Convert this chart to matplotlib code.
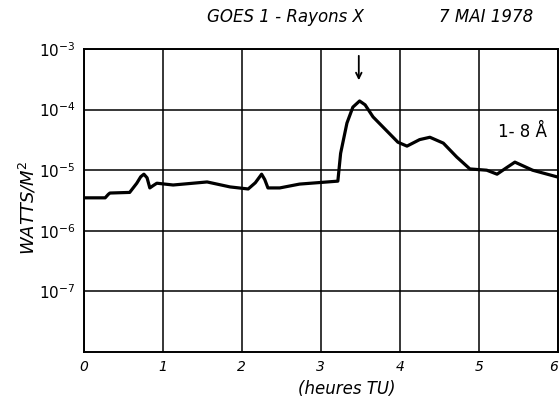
import numpy as np
from matplotlib import pyplot as plt

# hours (TU) and flux (W/m^2)
hours = [0.0, 0.27, 0.31, 0.33, 0.58, 0.67, 0.72, 0.76, 0.80, 0.835, 0.88, 0.924,
         1.13, 1.56, 1.85, 2.08, 2.17, 2.25, 2.29, 2.33, 2.48, 2.73, 3.215,
         3.25, 3.33, 3.405, 3.49, 3.56, 3.66, 3.975, 4.09, 4.25, 4.38, 4.55,
         4.72, 4.886, 5.10, 5.23, 5.35, 5.456, 5.68, 6.0]
flux = [3.5e-6, 3.5e-6, 4.0e-6, 4.2e-6, 4.3e-6, 6.1e-6, 7.8e-6, 8.6e-6, 7.5e-6, 5.1e-6,
        5.6e-6, 6.1e-6, 5.7e-6, 6.4e-6, 5.3e-6, 4.9e-6, 6.2e-6, 8.6e-6, 7.0e-6,
        5.1e-6, 5.1e-6, 5.9e-6, 6.6e-6, 1.9e-5, 6.0e-5, 1.1e-4, 1.39e-4, 1.2e-4,
        7.6e-5, 2.9e-5, 2.5e-5, 3.2e-5, 3.5e-5, 2.8e-5, 1.65e-5, 1.05e-5, 1.0e-5,
        8.6e-6, 1.1e-5, 1.36e-5, 1.0e-5, 7.7e-6]

xticks = [0, 1, 2, 3, 4, 5, 6]
ydecades = [1e-7, 1e-6, 1e-5, 1e-4, 1e-3]
ylabels = [r'$10^{-7}$', r'$10^{-6}$', r'$10^{-5}$', r'$10^{-4}$', r'$10^{-3}$']

fig = plt.figure(figsize=(5.59, 3.99), dpi=100)
ax = fig.add_axes([0.150, 0.118, 0.848, 0.759])

ax.plot(hours, flux, 'k-', lw=2.3, solid_capstyle='round', solid_joinstyle='round')

ax.set_yscale('log')
ax.set_xlim(0, 6)
ax.set_ylim(1e-8, 1e-3)
ax.set_xticks(xticks)
ax.set_xticklabels([str(t) for t in xticks], fontsize=10, style='italic')
ax.get_xticklabels()[-1].set_ha('right')
ax.set_yticks(ydecades)
ax.set_yticklabels(ylabels, fontsize=11)
ax.minorticks_off()
ax.tick_params(axis='x', length=0, pad=6)
ax.tick_params(axis='y', length=0, pad=6)
ax.grid(True, color='black', lw=1.1)
for s in ax.spines.values():
    s.set_linewidth(1.4)

fig.text(0.05, 0.48, r'WATTS/M$^2$', fontsize=13, style='italic',
         rotation=90, ha='center', va='center')
fig.text(0.62, 0.012, '(heures TU)', fontsize=12, style='italic', ha='center')
fig.text(0.51, 0.945, 'GOES 1 - Rayons X', fontsize=12, style='italic', ha='center')
fig.text(0.87, 0.945, '7 MAI 1978', fontsize=12, style='italic', ha='center')
ax.text(5.55, 4.3e-5, '1- 8 Å', fontsize=12, ha='center', va='center')

ax.annotate('', xy=(3.48, 2.75e-4), xytext=(3.48, 8.6e-4),
            arrowprops=dict(arrowstyle='->', color='black', lw=1.3),
            annotation_clip=False)

plt.savefig('out.png', dpi=100)
